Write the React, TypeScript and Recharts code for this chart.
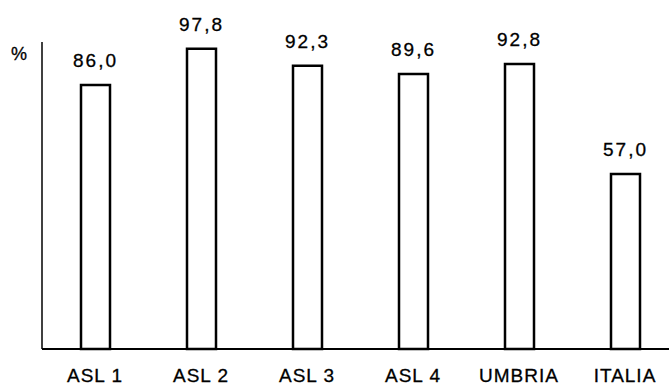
import React from 'react';
import { BarChart, Bar, XAxis, YAxis, LabelList } from 'recharts';

const categories = ['ASL 1', 'ASL 2', 'ASL 3', 'ASL 4', 'UMBRIA', 'ITALIA'];
const values = [86.0, 97.8, 92.3, 89.6, 92.8, 57.0];
const unitLabel = '%';

const data = categories.map((name, i) => ({ name, value: values[i] }));

const FONT = '"Liberation Sans", Arial, sans-serif';

const fmt = (v: any) => Number(v).toFixed(1).replace('.', ',');

const PercentLabel = (props: any) => {
  const vb = props.viewBox || { x: 42, y: 42, width: 0 };
  const right = vb.x + (vb.width || 0);
  return (
    <text x={right - 15} y={vb.y + 18} textAnchor="end" fontSize={18} fontFamily={FONT} fill="#000" stroke="#000" strokeWidth={0.3}>
      {unitLabel}
    </text>
  );
};

export default function App() {
  return (
    <div style={{ position: 'absolute', left: 0, top: 0, width: 669, height: 385, overflow: 'hidden', background: '#fff' }}>
      <BarChart
        width={690}
        height={385}
        data={data}
        margin={{ top: 42, right: 12, bottom: 0, left: 2 }}
      >
        <XAxis
          dataKey="name"
          height={36}
          tickLine={false}
          tickSize={0}
          tickMargin={20}
          axisLine={{ stroke: '#000', strokeWidth: 2 }}
          tick={{ fill: '#000', fontSize: 19, fontFamily: FONT, letterSpacing: 1, stroke: '#000', strokeWidth: 0.3 }}
          interval={0}
        />
        <YAxis
          width={40}
          domain={[0, 100]}
          tick={false}
          tickLine={false}
          axisLine={{ stroke: '#000', strokeWidth: 1.5 }}
          label={{ content: PercentLabel }}
        />
        <Bar
          dataKey="value"
          barSize={29}
          fill="#fff"
          stroke="#000"
          strokeWidth={2.5}
          isAnimationActive={false}
        >
          <LabelList
            dataKey="value"
            position="top"
            offset={18}
            formatter={fmt}
            fill="#000"
            stroke="#000"
            strokeWidth={0.3}
            fontSize={19}
            fontFamily={FONT}
            style={{ letterSpacing: 2 }}
          />
        </Bar>
      </BarChart>
    </div>
  );
}
